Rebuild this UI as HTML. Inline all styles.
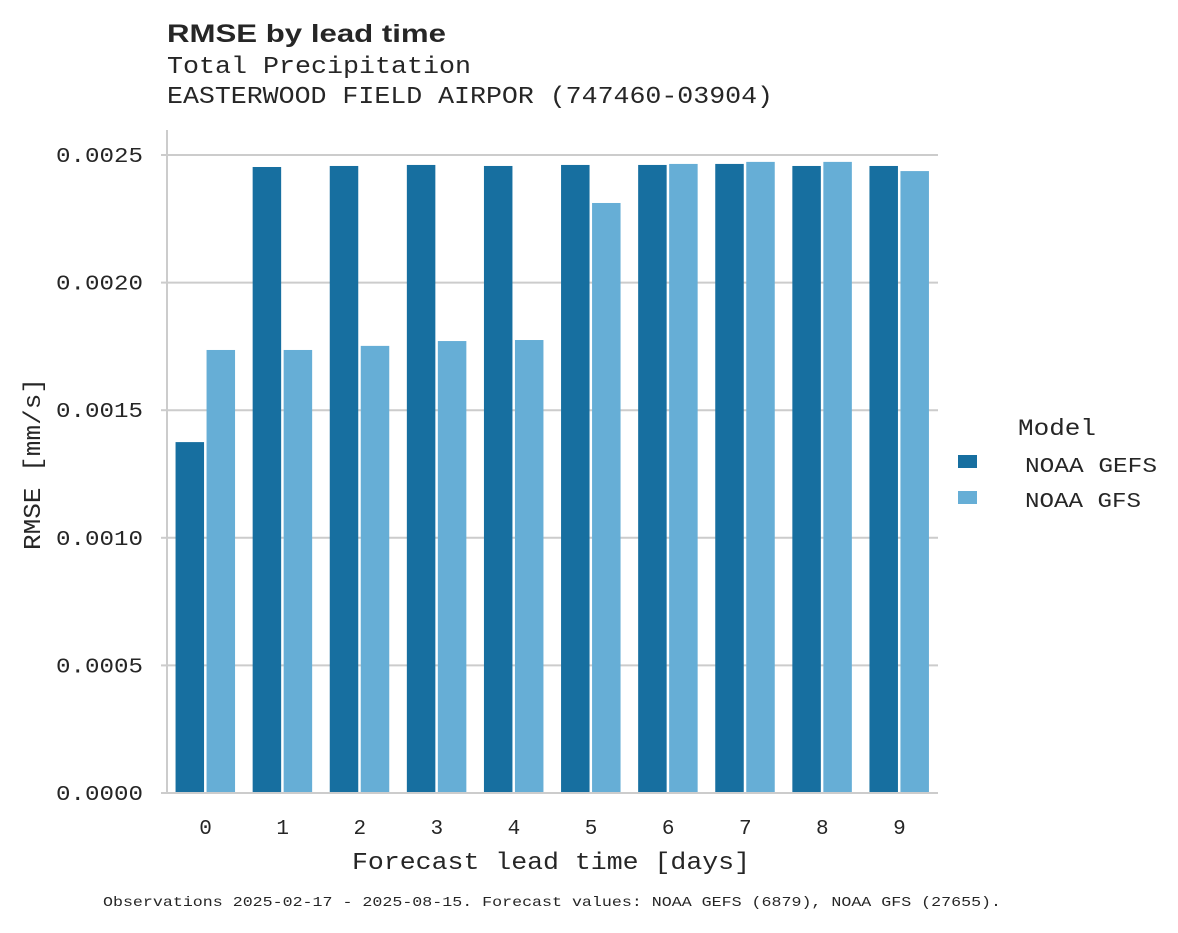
<!DOCTYPE html>
<html><head><meta charset="utf-8"><style>
body{margin:0;background:#fff;}
svg text{font-family:"Liberation Mono",monospace;fill:#262626;}
</style></head><body>
<svg id="chart" width="1178" height="928" xmlns="http://www.w3.org/2000/svg">
<text x="167" y="42" textLength="279" lengthAdjust="spacingAndGlyphs" style="font-family:'Liberation Sans',sans-serif;font-weight:bold;font-size:25px">RMSE by lead time</text>
<text x="167" y="73" font-size="24" textLength="304" lengthAdjust="spacingAndGlyphs">Total Precipitation</text>
<text x="167" y="103" font-size="24" textLength="606" lengthAdjust="spacingAndGlyphs">EASTERWOOD FIELD AIRPOR (747460-03904)</text>
<g id="grid"></g>
<g id="bars"></g>
<g id="axes"></g>
<text x="352" y="869" font-size="24" textLength="398" lengthAdjust="spacingAndGlyphs">Forecast lead time [days]</text>
<text transform="translate(40,464) rotate(-90)" font-size="24" text-anchor="middle" textLength="172" lengthAdjust="spacingAndGlyphs">RMSE [mm/s]</text>
<g>
<text x="1018" y="435" font-size="23" textLength="78" lengthAdjust="spacingAndGlyphs">Model</text>
<rect x="958" y="455" width="19" height="13" fill="#176fa0"/>
<text x="1025" y="472" font-size="21" textLength="132" lengthAdjust="spacingAndGlyphs">NOAA GEFS</text>
<rect x="958" y="491" width="19" height="13" fill="#66aed6"/>
<text x="1025" y="507" font-size="21" textLength="116" lengthAdjust="spacingAndGlyphs">NOAA GFS</text>
</g>
<text x="103" y="906" font-size="14" textLength="898" lengthAdjust="spacingAndGlyphs">Observations 2025-02-17 - 2025-08-15. Forecast values: NOAA GEFS (6879), NOAA GFS (27655).</text>
</svg>
<script>
const categories=["0","1","2","3","4","5","6","7","8","9"];
const gefsValues=[0.001375,0.002453,0.002457,0.002461,0.002457,0.002461,0.002461,0.002465,0.002457,0.002457];
const gfsValues=[0.001736,0.001736,0.001752,0.001771,0.001775,0.002312,0.002465,0.002473,0.002473,0.002437];
const yTicks=[0,0.0005,0.001,0.0015,0.002,0.0025];
const yTickLabels=["0.0000","0.0005","0.0010","0.0015","0.0020","0.0025"];
const NS="http://www.w3.org/2000/svg";
const x0=167,x1=938,yBase=793,yTop=155,yMax=0.0025;
const band=(x1-x0)/categories.length;
function y(v){return yBase-(v/yMax)*(yBase-yTop);}
function xc(i){return x0+band*(i+0.5);}
function mk(tag,attrs,parent){const e=document.createElementNS(NS,tag);for(const k in attrs)e.setAttribute(k,attrs[k]);parent.appendChild(e);return e;}
const grid=document.getElementById('grid'),bars=document.getElementById('bars'),axes=document.getElementById('axes');
yTicks.forEach((t,i)=>{
 const l=mk('line',{x1:x0,x2:x1,y1:y(t),y2:y(t),stroke:'#cccccc','stroke-width':2},grid);
 
 
 const tk=mk('line',{x1:x0-6,x2:x0,y1:y(t),y2:y(t),stroke:'#cccccc','stroke-width':2},axes);
 
 
 const tx=mk('text',{x:56,y:y(t)+7,'font-size':21,textLength:87,lengthAdjust:'spacingAndGlyphs'},axes);
 tx.textContent=yTickLabels[i];
 
 
});
const bw=28.5;
categories.forEach((c,i)=>{
 const a=mk('rect',{x:xc(i)-bw-1.5,y:y(gefsValues[i]),width:bw,height:yBase-y(gefsValues[i]),fill:'#176fa0'},bars);
 
 
 const b=mk('rect',{x:xc(i)+1,y:y(gfsValues[i]),width:bw,height:yBase-y(gfsValues[i]),fill:'#66aed6'},bars);
 
 
 const tx=mk('text',{x:xc(i),y:834,'font-size':21,'text-anchor':'middle'},axes);
 tx.textContent=c;
 
 
});
const la=mk('line',{x1:x0,x2:x0,y1:130,y2:yBase+1,stroke:'#cccccc','stroke-width':2},axes);


const lb=mk('line',{x1:x0-1,x2:x1,y1:yBase,y2:yBase,stroke:'#cccccc','stroke-width':2},axes);


</script>
</body></html>
